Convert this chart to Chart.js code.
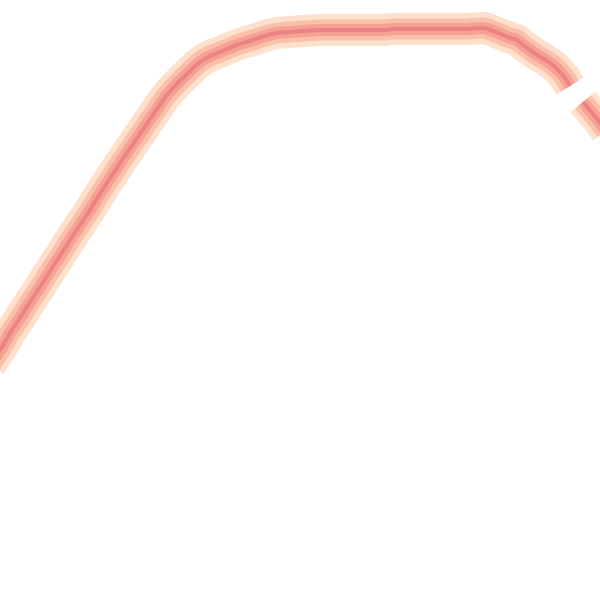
<!DOCTYPE html>
<html>
<head>
<meta charset="utf-8">
<script src="https://cdn.jsdelivr.net/npm/chart.js@4.4.0/dist/chart.umd.min.js"></script>
<style>
  html, body { margin: 0; padding: 0; background: #ffffff; }
  #wrap { width: 600px; height: 600px; }
</style>
</head>
<body>
<div id="wrap"><canvas id="curve"></canvas></div>
<script>
// centre line of the band (x right, y down)
const mainX = [-10,2,10,20,30,40,50,60,70,80,90,98,105,113,120,127,135,142,148,155,163,175,188,200,210,220,237,253,265,277,290,305,320,333,350,365,383,395,407,420,435,450,465,483,493,503,510,517,523,530,537,544,550,555,560,565,570];
const mainY = [365,347,333,318,302,287,271,256,240,225,210,197,186,174,163,153,141,131,122,112,100,86,73,62,56,52,45,40,36,33,32,31,30,30,30,30,30,29,29,29,29,29,29,28,31,35,38,40,45,50,55,59,63,67,72,78,86];
const tailX = [583,588,593,598,606];
const tailY = [102,108,114,120,131];

const toPts = (xs, ys) => xs.map((x, i) => ({x: x, y: ys[i]}));

// dark core first: chart.js paints dataset 0 on top
const layers = [
    {color: "rgb(236,130,132)", width: 4},
    {color: "rgb(245,162,148)", width: 12},
    {color: "rgb(250,192,170)", width: 21},
    {color: "rgb(254,225,204)", width: 32}
];

const datasets = [];
layers.forEach(function (l) {
    [toPts(mainX, mainY), toPts(tailX, tailY)].forEach(function (pts) {
        datasets.push({
            data: pts,
            showLine: true,
            borderColor: l.color,
            borderWidth: l.width,
            borderCapStyle: "butt",
            borderJoinStyle: "round",
            pointRadius: 0,
            cubicInterpolationMode: "monotone",
            fill: false
        });
    });
});

var ctx = document.getElementById("curve").getContext("2d");
var myChart = new Chart(ctx, {
    type: "scatter",
    data: { datasets: datasets },
    options: {
        responsive: true,
        maintainAspectRatio: false,
        animation: false,
        layout: { padding: 0 },
        plugins: { legend: { display: false }, tooltip: { enabled: false } },
        scales: {
            x: { type: "linear", min: 0, max: 600, display: false },
            y: { type: "linear", min: 0, max: 600, reverse: true, display: false }
        }
    }
});
</script>
</body>
</html>
